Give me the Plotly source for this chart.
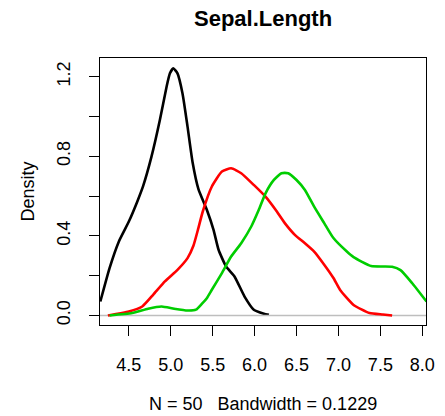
import plotly.graph_objects as go

# Density estimates (iris Sepal.Length by species)
setosa_x = [4.16, 4.27, 4.38, 4.50, 4.60, 4.67, 4.77, 4.87, 4.95, 4.99, 5.03, 5.08, 5.14,
            5.20, 5.26, 5.33, 5.43, 5.51, 5.57, 5.66, 5.76, 5.88, 5.99, 6.11, 6.17]
setosa_y = [0.07, 0.238, 0.371, 0.472, 0.572, 0.65, 0.798, 0.982, 1.15, 1.217, 1.242, 1.217, 1.116,
            0.949, 0.77, 0.635, 0.531, 0.43, 0.33, 0.246, 0.196, 0.095, 0.029, 0.009, 0.003]

versicolor_x = [4.25, 4.50, 4.66, 4.79, 4.93, 5.08, 5.20, 5.27, 5.33, 5.38, 5.49, 5.61, 5.72,
                5.84, 5.99, 6.13, 6.25, 6.36, 6.48, 6.60, 6.71, 6.83, 6.94, 7.02, 7.18, 7.37,
                7.53, 7.64]
versicolor_y = [0.0, 0.02, 0.045, 0.104, 0.171, 0.229, 0.288, 0.35, 0.44, 0.52, 0.648, 0.723, 0.74,
                0.715, 0.656, 0.597, 0.531, 0.464, 0.405, 0.363, 0.321, 0.255, 0.188, 0.128, 0.053,
                0.012, 0.005, 0.0]

virginica_x = [4.27, 4.54, 4.73, 4.89, 5.04, 5.20, 5.30, 5.37, 5.43, 5.49, 5.61, 5.72, 5.84,
               5.96, 6.05, 6.13, 6.23, 6.32, 6.40, 6.50, 6.60, 6.71, 6.83, 6.94, 7.10, 7.18,
               7.39, 7.64, 7.74, 7.88, 8.05]
virginica_y = [0.0, 0.012, 0.034, 0.045, 0.034, 0.025, 0.029, 0.058, 0.087, 0.129, 0.213, 0.296, 0.363,
               0.447, 0.531, 0.614, 0.681, 0.715, 0.715, 0.681, 0.631, 0.547, 0.464, 0.389, 0.321, 0.293,
               0.248, 0.245, 0.228, 0.162, 0.07]

x_tick_vals = [4.5, 5.0, 5.5, 6.0, 6.5, 7.0, 7.5, 8.0]
x_tick_text = ["4.5", "5.0", "5.5", "6.0", "6.5", "7.0", "7.5", "8.0"]
y_tick_vals = [0.0, 0.2, 0.4, 0.6, 0.8, 1.0, 1.2]
y_tick_text = ["0.0", "", "0.4", "", "0.8", "", "1.2"]

title_text = "Sepal.Length"
xlab_text = "N = 50   Bandwidth = 0.1229"
ylab_text = "Density"

x_range = [4.156, 8.044]
y_range = [-0.048, 1.294]

FONT = "Liberation Sans, Arial, sans-serif"
W, H = 445, 416
ML, MR, MT, MB = 100, 10, 58, 91
PW, PH = W - ML - MR, H - MT - MB

line_style = dict(width=2.6, shape="spline", smoothing=0.5)

fig = go.Figure()
fig.add_trace(go.Scatter(x=setosa_x, y=setosa_y, mode="lines",
                         line=dict(color="black", **line_style)))
fig.add_trace(go.Scatter(x=x_range, y=[0, 0], mode="lines",
                         line=dict(color="#BEBEBE", width=1.5)))
fig.add_trace(go.Scatter(x=versicolor_x, y=versicolor_y, mode="lines",
                         line=dict(color="#FF0000", **line_style)))
fig.add_trace(go.Scatter(x=virginica_x, y=virginica_y, mode="lines",
                         line=dict(color="#00CD00", **line_style)))

axis_common = dict(showline=True, mirror=True, linecolor="black", linewidth=1.2,
                   showgrid=False, zeroline=False, ticks="outside", ticklen=10,
                   tickwidth=1.2, tickcolor="black",
                   tickfont=dict(family=FONT, size=18, color="black"))

fig.update_layout(
    width=W, height=H, margin=dict(l=ML, r=MR, t=MT, b=MB),
    paper_bgcolor="white", plot_bgcolor="white", showlegend=False,
    xaxis=dict(range=x_range, tickmode="array", tickvals=x_tick_vals,
               ticktext=x_tick_text, ticklabelstandoff=13, **axis_common),
    yaxis=dict(range=y_range, tickmode="array", tickvals=y_tick_vals,
               ticktext=y_tick_text, tickangle=-90, ticklabelstandoff=12, **axis_common),
    annotations=[
        dict(text="<b>" + title_text + "</b>", xref="paper", yref="paper",
             x=0.5, y=1 + (MT - 18) / PH, xanchor="center", yanchor="middle",
             showarrow=False, font=dict(family=FONT, size=22, color="black")),
        dict(text=xlab_text, xref="paper", yref="paper",
             x=0.5, y=-(404 - (MT + PH)) / PH, xanchor="center", yanchor="middle",
             showarrow=False, font=dict(family=FONT, size=18, color="black")),
        dict(text=ylab_text, xref="paper", yref="paper",
             x=(25 - ML) / PW, y=0.5, xanchor="center", yanchor="middle",
             textangle=-90, showarrow=False,
             font=dict(family=FONT, size=18, color="black")),
    ],
)

fig.write_html("out.html")
